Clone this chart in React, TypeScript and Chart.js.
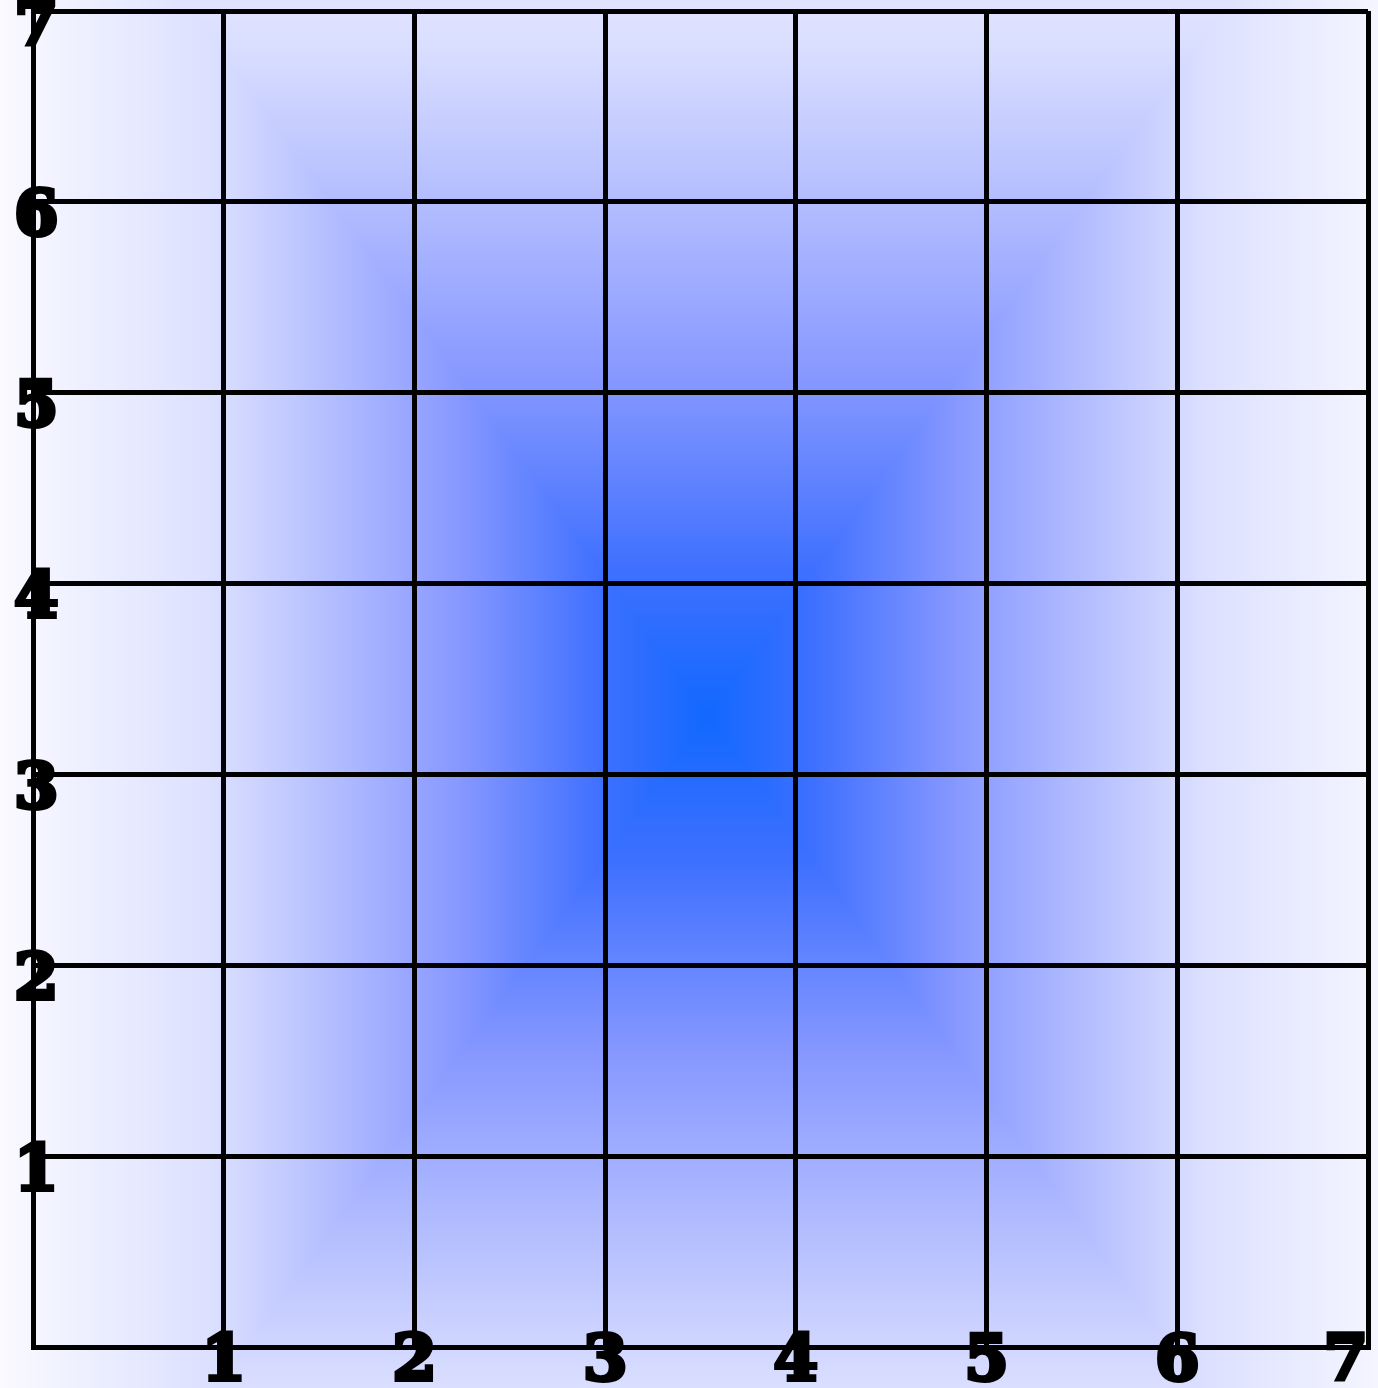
import React, { useEffect, useRef } from 'react';
import { Chart, registerables } from 'chart.js';

Chart.register(...registerables);

// ---- data ----
const xTickLabels: string[] = ['', '1', '2', '3', '4', '5', '6', '7'];
const yTickLabels: string[] = ['', '1', '2', '3', '4', '5', '6', '7'];
const axisMin = 0;
const axisMax = 7;
const points: { x: number; y: number }[] = [];

// ---- style ----
const PAGE_W = 1378;
const PAGE_H = 1388;
const GRAD_CENTER = { x: 708, y: 716 };
const GRAD_EXTENT = { x: 710, y: 970 };
const GRAD_STOPS: number[][] = [
  [0, 18, 104, 255],
  [0.15, 62, 112, 255],
  [0.35, 135, 152, 255],
  [0.7, 220, 224, 255],
  [1, 250, 250, 255],
];

const tickFont = { family: '"DejaVu Serif", serif', size: 64, weight: 'bold' as const, lineHeight: 1.1 };

const boxGradientPlugin = {
  id: 'boxGradient',
  beforeDraw(chart: any) {
    const { ctx, canvas } = chart;
    const pw = canvas.width;
    const ph = canvas.height;
    const ratio = pw / chart.width;
    const img = ctx.createImageData(pw, ph);
    const d = img.data;
    for (let j = 0; j < ph; j++) {
      const py = (j + 0.5) / ratio;
      const ty = Math.abs(py - GRAD_CENTER.y) / GRAD_EXTENT.y;
      for (let i = 0; i < pw; i++) {
        const px = (i + 0.5) / ratio;
        const tx = Math.abs(px - GRAD_CENTER.x) / GRAD_EXTENT.x;
        const t = Math.min(1, Math.max(tx, ty));
        let k = 0;
        while (k < GRAD_STOPS.length - 2 && t > GRAD_STOPS[k + 1][0]) k++;
        const a = GRAD_STOPS[k];
        const b = GRAD_STOPS[k + 1];
        const f = Math.max(0, Math.min(1, (t - a[0]) / (b[0] - a[0])));
        const idx = (j * pw + i) * 4;
        d[idx] = a[1] + (b[1] - a[1]) * f;
        d[idx + 1] = a[2] + (b[2] - a[2]) * f;
        d[idx + 2] = a[3] + (b[3] - a[3]) * f;
        d[idx + 3] = 255;
      }
    }
    ctx.putImageData(img, 0, 0);
  },
};

export default function App() {
  const canvasRef = useRef<HTMLCanvasElement | null>(null);

  useEffect(() => {
    document.body.style.margin = '0';
    const canvas = canvasRef.current;
    if (!canvas) return;
    const chart = new Chart(canvas, {
      type: 'scatter',
      data: { datasets: [{ data: points, pointRadius: 0 }] },
      plugins: [boxGradientPlugin],
      options: {
        animation: false,
        responsive: true,
        maintainAspectRatio: false,
        layout: { padding: { top: 11, right: 10, left: 0, bottom: 0 } },
        plugins: { legend: { display: false }, tooltip: { enabled: false } },
        scales: {
          x: {
            type: 'linear',
            position: 'bottom',
            min: axisMin,
            max: axisMax,
            ticks: {
              stepSize: 1,
              autoSkip: false,
              maxRotation: 0,
              align: 'inner',
              mirror: true,
              padding: -52,
              color: '#000',
              textStrokeColor: '#000',
              textStrokeWidth: 4,
              font: tickFont,
              callback: (v: any) => xTickLabels[Math.round(Number(v))] ?? '',
            },
            grid: { color: '#000', lineWidth: 5, drawTicks: false },
            border: { color: '#000', width: 5 },
            afterFit: (s: any) => {
              s.height = 41;
              s.paddingLeft = 0;
              s.paddingRight = 0;
              s.paddingTop = 0;
              s.paddingBottom = 0;
            },
          },
          y: {
            type: 'linear',
            position: 'left',
            min: axisMin,
            max: axisMax,
            ticks: {
              stepSize: 1,
              autoSkip: false,
              mirror: true,
              crossAlign: 'center',
              padding: -19,
              labelOffset: 17,
              color: '#000',
              textStrokeColor: '#000',
              textStrokeWidth: 4,
              font: tickFont,
              callback: (v: any) => yTickLabels[Math.round(Number(v))] ?? '',
            },
            grid: { color: '#000', lineWidth: 5, drawTicks: false },
            border: { color: '#000', width: 5 },
            afterFit: (s: any) => {
              s.width = 33;
              s.paddingLeft = 0;
              s.paddingRight = 0;
              s.paddingTop = 0;
              s.paddingBottom = 0;
            },
          },
        },
      } as any,
    });
    return () => chart.destroy();
  }, []);

  return (
    <div style={{ position: 'relative', width: PAGE_W + 'px', height: PAGE_H + 'px' }}>
      <canvas ref={canvasRef} style={{ display: 'block' }} />
    </div>
  );
}
